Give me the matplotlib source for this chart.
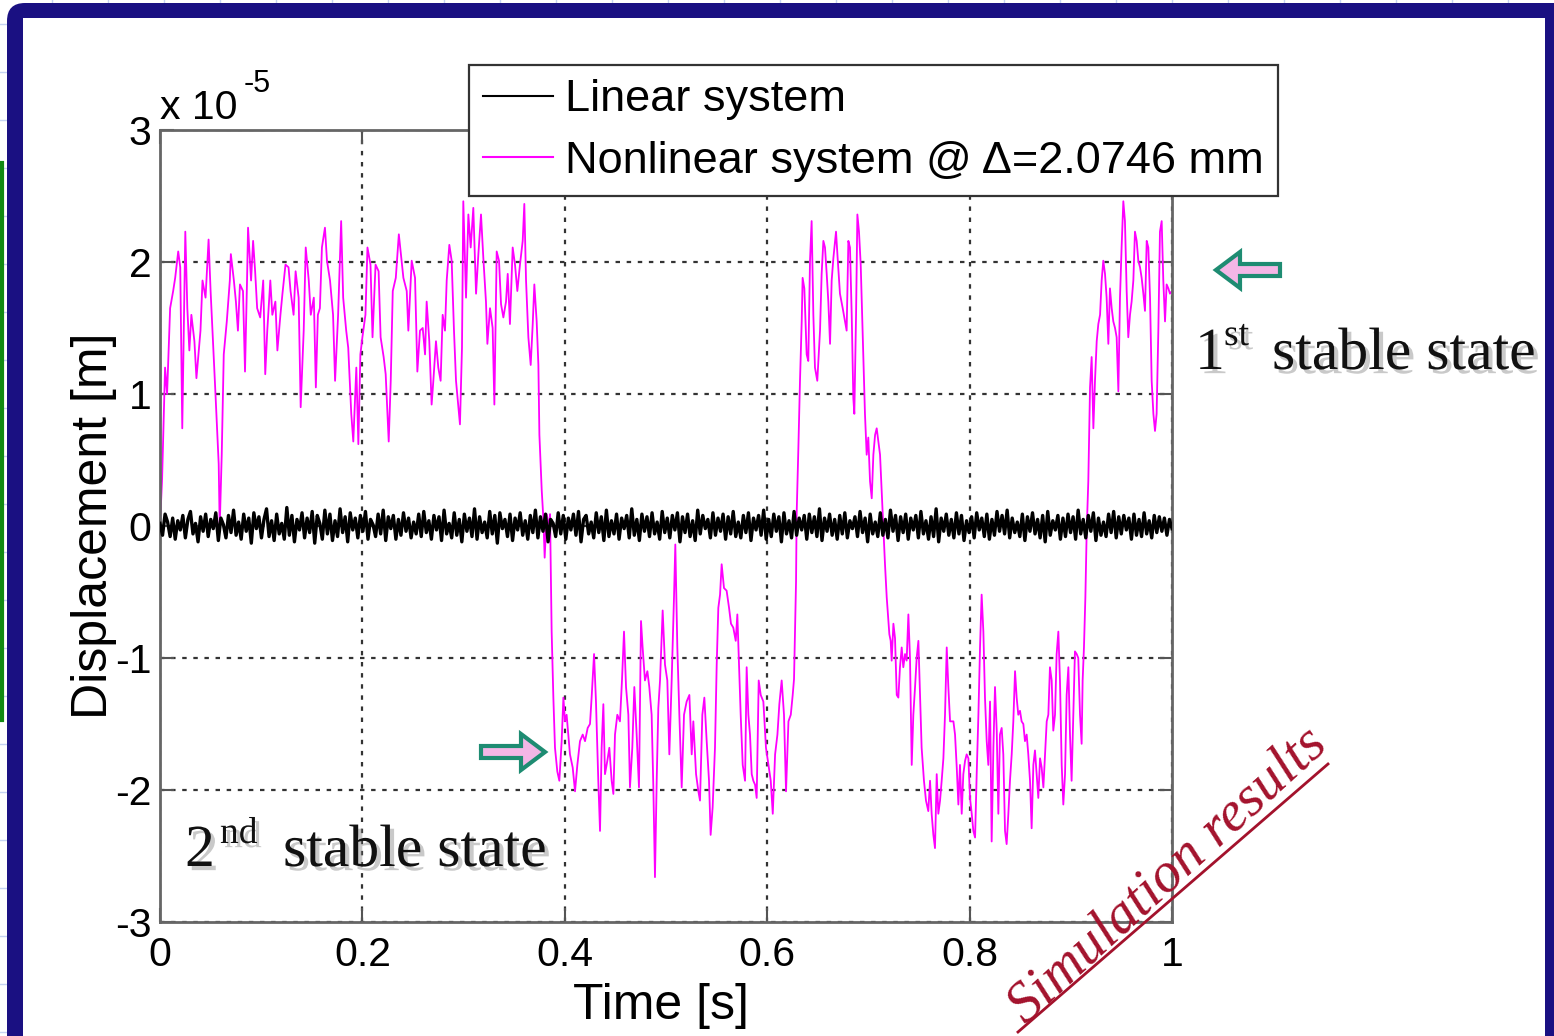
import numpy as np
import matplotlib.pyplot as plt
from matplotlib import patheffects
from matplotlib.patches import FancyBboxPatch, Rectangle, FancyArrow
from matplotlib.lines import Line2D
from matplotlib.transforms import Affine2D

W, H = 1554, 1036

plt.rcParams['font.family'] = ['Liberation Sans', 'DejaVu Sans']
plt.rcParams['mathtext.fontset'] = 'custom'
plt.rcParams['mathtext.rm'] = 'Liberation Sans'

# ---- data (displacement in units of 1e-5 m) ----
# nonlinear system, (time [s], displacement)
nonlinear_pts = [
    (0.000, 0.01), (0.002, 0.34), (0.005, 1.20), (0.007, 1.00), (0.010, 1.65),
    (0.013, 1.78), (0.015, 1.88), (0.018, 2.08), (0.020, 1.96), (0.022, 0.74),
    (0.025, 2.23), (0.027, 1.65), (0.029, 1.33), (0.031, 1.60), (0.034, 1.40),
    (0.036, 1.12), (0.040, 1.48), (0.042, 1.86), (0.045, 1.73), (0.048, 2.17),
    (0.050, 1.78), (0.053, 1.30), (0.055, 0.97), (0.058, 0.47), (0.059, -0.01),
    (0.061, 0.54), (0.063, 1.30), (0.066, 1.55), (0.069, 1.86), (0.070, 2.06),
    (0.073, 1.86), (0.075, 1.70), (0.077, 1.48), (0.079, 1.83), (0.082, 1.78),
    (0.084, 1.17), (0.086, 1.86), (0.087, 2.26), (0.090, 1.86), (0.092, 2.16),
    (0.094, 1.93), (0.096, 1.65), (0.099, 1.58), (0.102, 1.86), (0.104, 1.15),
    (0.106, 1.48), (0.109, 1.86), (0.111, 1.60), (0.114, 1.70), (0.116, 1.33),
    (0.119, 1.60), (0.121, 1.76), (0.124, 1.98), (0.127, 1.96), (0.129, 1.78),
    (0.132, 1.60), (0.134, 1.93), (0.137, 1.73), (0.139, 0.90), (0.142, 1.48),
    (0.144, 2.11), (0.147, 1.86), (0.149, 1.60), (0.152, 1.73), (0.154, 1.05),
    (0.156, 1.60), (0.158, 1.65), (0.160, 2.11), (0.163, 2.26), (0.165, 2.01),
    (0.168, 1.86), (0.171, 1.60), (0.173, 1.10), (0.176, 1.60), (0.179, 2.31),
    (0.181, 1.73), (0.184, 1.48), (0.186, 1.35), (0.189, 0.85), (0.191, 0.64),
    (0.194, 1.20), (0.196, 0.62), (0.198, 1.30), (0.200, 1.43), (0.203, 1.60),
    (0.205, 2.11), (0.208, 1.98), (0.210, 1.43), (0.213, 1.98), (0.216, 1.93),
    (0.218, 1.43), (0.221, 1.28), (0.223, 1.15), (0.226, 0.64), (0.228, 1.10),
    (0.230, 1.78), (0.233, 1.88), (0.236, 2.21), (0.2405, 1.88), (0.2438, 1.78),
    (0.2454, 1.48), (0.2487, 2.01), (0.2520, 1.88), (0.2543, 1.17), (0.2569, 1.48),
    (0.2596, 1.50), (0.2619, 1.30), (0.2635, 1.70), (0.2661, 1.40), (0.2684, 0.92),
    (0.2701, 1.10), (0.2727, 1.40), (0.2750, 1.20), (0.2773, 1.10), (0.2793, 1.60),
    (0.2816, 1.48), (0.2833, 1.86), (0.2859, 2.13), (0.2882, 2.01), (0.2905, 1.48),
    (0.2925, 1.10), (0.2948, 0.90), (0.2964, 0.77), (0.2984, 1.35), (0.2997, 2.46),
    (0.3024, 1.73), (0.3047, 2.36), (0.3070, 2.11), (0.3096, 2.41), (0.3123, 1.76),
    (0.3146, 2.06), (0.3172, 2.36), (0.3195, 2.03), (0.3221, 1.70), (0.3235, 1.38),
    (0.3261, 1.65), (0.3287, 1.50), (0.3304, 0.92), (0.3327, 2.08), (0.3350, 2.01),
    (0.3370, 1.68), (0.3393, 1.58), (0.3419, 1.70), (0.3436, 1.91), (0.3458, 1.53),
    (0.3485, 2.11), (0.3508, 1.98), (0.3531, 1.78), (0.3557, 1.98), (0.3584, 2.16),
    (0.3600, 2.44), (0.3617, 1.86), (0.3640, 1.43), (0.3663, 1.22), (0.3683, 1.53),
    (0.3699, 1.83), (0.3722, 1.55), (0.3739, 1.22), (0.3749, 0.69), (0.3772, 0.27),
    (0.3788, 0.06), (0.3801, -0.24), (0.3821, 0.09), (0.3844, -0.01), (0.3854, 0.09),
    (0.3870, -0.80), (0.3887, -1.30), (0.3903, -1.68), (0.3926, -1.86), (0.3946, -1.93),
    (0.3969, -1.63), (0.3986, -1.30), (0.4002, -1.48), (0.4018, -1.43), (0.4035, -1.58),
    (0.4051, -1.73), (0.4078, -1.83), (0.4101, -2.01), (0.4124, -1.81), (0.4150, -1.63),
    (0.4177, -1.58), (0.4200, -1.63), (0.4226, -1.53), (0.4249, -1.50), (0.4265, -1.30),
    (0.4289, -0.97), (0.4308, -1.33), (0.4331, -1.93), (0.4348, -2.31), (0.4364, -1.68),
    (0.4381, -1.35), (0.4397, -1.88), (0.4420, -1.78), (0.4440, -1.68), (0.4463, -1.93),
    (0.4480, -2.03), (0.4496, -1.58), (0.4519, -1.43), (0.4545, -1.48), (0.4565, -1.17),
    (0.4585, -0.80), (0.4605, -1.22), (0.4628, -1.43), (0.4644, -1.98), (0.4667, -1.68),
    (0.4687, -1.22), (0.4710, -1.58), (0.4733, -1.98), (0.4753, -0.72), (0.4769, -0.92),
    (0.4792, -1.17), (0.4816, -1.10), (0.4835, -1.22), (0.4858, -1.43), (0.4875, -1.98),
    (0.4891, -2.66), (0.4908, -1.93), (0.4924, -1.38), (0.4941, -1.17), (0.4967, -0.64),
    (0.4990, -1.05), (0.5013, -1.17), (0.5033, -1.73), (0.5056, -1.17), (0.5079, -0.54),
    (0.5092, -0.14), (0.5112, -0.92), (0.5132, -1.43), (0.5155, -1.98), (0.5178, -1.43),
    (0.5204, -1.33), (0.5231, -1.28), (0.5254, -1.73), (0.5270, -1.48), (0.5297, -1.88),
    (0.5320, -2.01), (0.5336, -2.08), (0.5359, -1.43), (0.5379, -1.30), (0.5402, -1.63),
    (0.5425, -1.93), (0.5441, -2.34), (0.5461, -2.13), (0.5484, -1.68), (0.5501, -1.05),
    (0.5517, -0.62), (0.5534, -0.52), (0.5550, -0.29), (0.5573, -0.47), (0.5599, -0.49),
    (0.5623, -0.62), (0.5642, -0.74), (0.5665, -0.77), (0.5689, -0.87), (0.5705, -0.67),
    (0.5722, -1.07), (0.5738, -1.43), (0.5758, -1.81), (0.5781, -1.93), (0.5797, -1.07),
    (0.5814, -1.43), (0.5830, -1.58), (0.5847, -1.88), (0.5863, -1.93), (0.5880, -1.96),
    (0.5896, -2.06), (0.5916, -1.17), (0.5936, -1.28), (0.5962, -1.33), (0.5988, -1.68),
    (0.6012, -1.81), (0.6035, -1.93), (0.6055, -2.18), (0.6078, -1.73), (0.6101, -1.58),
    (0.6120, -1.35), (0.6143, -1.17), (0.6166, -1.43), (0.6186, -2.01), (0.6210, -1.48),
    (0.6233, -1.43), (0.6252, -1.28), (0.6265, -1.16), (0.6285, -0.42), (0.6291, 0.09),
    (0.6308, 0.59), (0.6324, 1.10), (0.6341, 1.55), (0.6350, 1.88), (0.6367, 1.80),
    (0.6390, 1.30), (0.6406, 1.25), (0.6423, 2.01), (0.6439, 2.31), (0.6456, 1.60),
    (0.6472, 1.20), (0.6495, 1.10), (0.6522, 1.48), (0.6538, 1.91), (0.6555, 2.16),
    (0.6571, 2.11), (0.6588, 1.91), (0.6604, 1.70), (0.6621, 1.38), (0.6637, 1.86),
    (0.6654, 2.03), (0.6680, 2.23), (0.6696, 2.03), (0.6719, 1.76), (0.6746, 1.65),
    (0.6769, 1.55), (0.6785, 1.48), (0.6802, 2.16), (0.6818, 2.11), (0.6835, 1.60),
    (0.6851, 0.97), (0.6861, 0.85), (0.6878, 1.60), (0.6891, 2.36), (0.6907, 2.23),
    (0.6924, 1.98), (0.6943, 1.48), (0.6966, 0.85), (0.6983, 0.54), (0.6999, 0.67),
    (0.7016, 0.34), (0.7033, 0.21), (0.7049, 0.54), (0.7066, 0.69), (0.7082, 0.74),
    (0.7099, 0.64), (0.7115, 0.54), (0.7141, 0.09), (0.7164, -0.29), (0.7181, -0.54),
    (0.7207, -0.82), (0.7220, -0.87), (0.7230, -1.02), (0.7247, -0.74), (0.7263, -0.85),
    (0.7280, -1.28), (0.7296, -1.30), (0.7312, -1.07), (0.7329, -0.92), (0.7345, -1.07),
    (0.7362, -0.97), (0.7378, -1.02), (0.7395, -0.67), (0.7411, -1.00), (0.7428, -1.81),
    (0.7444, -1.43), (0.7461, -1.22), (0.7477, -1.00), (0.7494, -0.87), (0.7510, -1.28),
    (0.7526, -1.68), (0.7549, -1.93), (0.7569, -2.08), (0.7592, -2.16), (0.7609, -1.93),
    (0.7625, -2.18), (0.7642, -2.34), (0.7658, -2.44), (0.7675, -1.88), (0.7691, -2.18),
    (0.7708, -2.08), (0.7724, -1.93), (0.7741, -1.76), (0.7757, -1.43), (0.7774, -0.92),
    (0.7790, -1.22), (0.7807, -1.48), (0.7823, -1.48), (0.7840, -1.48), (0.7856, -1.58),
    (0.7873, -1.83), (0.7889, -2.11), (0.7905, -1.81), (0.7922, -2.18), (0.7938, -1.88),
    (0.7955, -1.78), (0.7971, -1.73), (0.7988, -1.76), (0.8004, -2.06), (0.8021, -2.18),
    (0.8037, -2.31), (0.8054, -2.36), (0.8070, -1.88), (0.8087, -1.43), (0.8103, -0.92),
    (0.8119, -0.52), (0.8136, -0.80), (0.8152, -1.30), (0.8169, -1.63), (0.8185, -1.81),
    (0.8202, -1.33), (0.8218, -2.39), (0.8235, -1.68), (0.8251, -1.22), (0.8268, -1.55),
    (0.8284, -2.18), (0.8300, -1.58), (0.8317, -1.53), (0.8333, -1.73), (0.8350, -2.31),
    (0.8366, -2.41), (0.8383, -2.18), (0.8399, -1.93), (0.8416, -1.73), (0.8432, -1.48),
    (0.8449, -1.10), (0.8465, -1.30), (0.8481, -1.43), (0.8498, -1.40), (0.8514, -1.48),
    (0.8531, -1.50), (0.8547, -1.63), (0.8564, -1.58), (0.8580, -1.73), (0.8597, -1.93),
    (0.8613, -2.29), (0.8630, -1.81), (0.8646, -1.70), (0.8663, -1.88), (0.8679, -2.06),
    (0.8696, -1.76), (0.8712, -1.83), (0.8729, -1.98), (0.8745, -1.73), (0.8762, -1.48),
    (0.8778, -1.43), (0.8794, -1.07), (0.8811, -1.17), (0.8827, -1.55), (0.8844, -1.43),
    (0.8860, -0.97), (0.8877, -0.80), (0.8893, -1.17), (0.8910, -1.81), (0.8926, -2.11),
    (0.8943, -1.88), (0.8959, -1.28), (0.8976, -1.07), (0.8992, -1.58), (0.9008, -1.93),
    (0.9025, -1.43), (0.9041, -0.95), (0.9058, -0.97), (0.9074, -1.00), (0.9091, -1.43),
    (0.9107, -1.65), (0.9117, -1.17), (0.9130, -0.92), (0.9144, -0.54), (0.9157, -0.04),
    (0.9173, 0.34), (0.9190, 1.05), (0.9206, 1.28), (0.9223, 0.74), (0.9239, 1.10),
    (0.9256, 1.40), (0.9272, 1.53), (0.9289, 1.60), (0.9305, 1.86), (0.9321, 2.01),
    (0.9338, 1.91), (0.9354, 1.73), (0.9371, 1.38), (0.9387, 1.80), (0.9404, 1.65),
    (0.9420, 1.55), (0.9437, 1.50), (0.9453, 1.43), (0.9470, 1.02), (0.9486, 1.73),
    (0.9502, 2.11), (0.9519, 2.46), (0.9535, 2.31), (0.9552, 1.78), (0.9568, 1.43),
    (0.9585, 1.60), (0.9601, 1.70), (0.9618, 1.86), (0.9634, 2.23), (0.9651, 2.16),
    (0.9667, 2.01), (0.9684, 1.96), (0.9700, 1.88), (0.9717, 1.76), (0.9733, 1.63),
    (0.9750, 2.16), (0.9766, 2.11), (0.9783, 1.73), (0.9799, 1.10), (0.9816, 0.85),
    (0.9832, 0.72), (0.9848, 0.85), (0.9865, 1.48), (0.9881, 2.23), (0.9898, 2.31),
    (0.9914, 1.86), (0.9931, 1.55), (0.9947, 1.83), (0.9964, 1.80), (0.9980, 1.76),
    (1.0000, 1.78),
]

# linear system: small vibration around zero, evenly sampled over 0..1 s
linear_disp = [
    0.02, -0.07, 0.09, 0.03, -0.08, 0.06, -0.10, 0.04, -0.03, 0.08, -0.09, 0.05, 0.11, -0.06, 0.02, -0.12, 0.07, -0.04, 0.09, -0.08,
    0.05, -0.02, 0.10, -0.11, 0.06, 0.01, -0.09, 0.08, -0.05, 0.12, -0.07, 0.03, -0.10, 0.09, -0.04, 0.06, -0.13, 0.10, -0.02, 0.07,
    -0.09, 0.05, 0.13, -0.08, 0.04, -0.11, 0.09, -0.06, 0.02, -0.10, 0.14, -0.07, 0.08, -0.12, 0.05, -0.03, 0.10, -0.09, 0.06, -0.05,
    0.11, -0.13, 0.08, 0.02, -0.10, 0.12, -0.06, 0.09, -0.11, 0.04, -0.08, 0.13, -0.05, 0.07, -0.12, 0.10, -0.03, 0.06, -0.09, 0.08,
    -0.04, 0.11, -0.10, 0.05, 0.01, -0.08, 0.09, -0.06, 0.12, -0.11, 0.07, -0.02, 0.08, -0.10, 0.05, -0.07, 0.10, -0.04, 0.06, -0.09,
    0.03, -0.06, 0.09, -0.08, 0.11, -0.05, 0.04, -0.10, 0.08, -0.03, 0.07, -0.11, 0.12, -0.06, 0.02, -0.09, 0.10, -0.07, 0.05, -0.12,
    0.09, -0.04, 0.06, -0.08, 0.13, -0.10, 0.07, -0.05, 0.03, -0.09, 0.11, -0.06, 0.08, -0.13, 0.10, -0.02, 0.05, -0.08, 0.09, -0.11,
    0.06, -0.03, 0.10, -0.07, 0.04, -0.10, 0.08, -0.05, 0.12, -0.09, 0.07, -0.04, 0.09, -0.12, 0.05, 0.02, -0.08, 0.10, -0.06, 0.08,
    -0.10, 0.06, -0.03, 0.09, -0.07, 0.11, -0.12, 0.05, 0.08, -0.06, 0.03, -0.09, 0.10, -0.05, 0.07, -0.11, 0.12, -0.08, 0.04, -0.06,
    0.09, -0.10, 0.06, -0.02, 0.08, -0.09, 0.13, -0.07, 0.05, -0.11, 0.09, -0.04, 0.07, -0.08, 0.10, -0.06, 0.03, -0.10, 0.11, -0.05,
    0.06, -0.09, 0.08, -0.03, 0.10, -0.12, 0.07, -0.05, 0.09, -0.08, 0.04, -0.11, 0.12, -0.06, 0.08, -0.02, 0.05, -0.09, 0.10, -0.07,
    0.06, -0.04, 0.09, -0.10, 0.07, -0.06, 0.11, -0.08, 0.03, -0.09, 0.08, -0.05, 0.10, -0.11, 0.06, -0.03, 0.08, -0.07, 0.12, -0.10,
    0.05, -0.08, 0.09, -0.04, 0.07, -0.12, 0.10, -0.06, 0.04, -0.09, 0.11, -0.07, 0.06, -0.03, 0.08, -0.10, 0.09, -0.05, 0.07, -0.08,
    0.13, -0.11, 0.06, -0.04, 0.09, -0.07, 0.05, -0.10, 0.08, -0.06, 0.10, -0.09, 0.04, -0.02, 0.07, -0.08, 0.11, -0.05, 0.06, -0.12,
    0.09, -0.06, 0.03, -0.08, 0.10, -0.07, 0.05, -0.09, 0.12, -0.04, 0.08, -0.11, 0.07, -0.05, 0.09, -0.10, 0.06, -0.03, 0.08, -0.09,
    0.11, -0.06, 0.04, -0.10, 0.07, -0.08, 0.13, -0.12, 0.06, -0.04, 0.09, -0.07, 0.05, -0.09, 0.10, -0.06, 0.08, -0.11, 0.04, -0.05,
    0.07, -0.09, 0.10, -0.03, 0.06, -0.08, 0.09, -0.10, 0.05, -0.07, 0.11, -0.04, 0.08, -0.06, 0.12, -0.09, 0.06, -0.05, 0.03, -0.08,
    0.09, -0.11, 0.07, -0.04, 0.10, -0.06, 0.05, -0.09, 0.08, -0.12, 0.11, -0.07, 0.04, -0.03, 0.08, -0.10, 0.06, -0.08, 0.09, -0.05,
    0.07, -0.10, 0.12, -0.06, 0.05, -0.09, 0.08, -0.04, 0.10, -0.11, 0.06, -0.07, 0.03, -0.08, 0.09, -0.05, 0.11, -0.09, 0.07, -0.06,
    0.08, -0.03, 0.06, -0.10, 0.09, -0.07, 0.05, -0.08, 0.10, -0.06, 0.04, -0.09, 0.08, -0.05, 0.07, -0.04, 0.06, -0.07, 0.05, -0.02,
]

x_ticks = [0, 0.2, 0.4, 0.6, 0.8, 1]
x_ticklabels = ['0', '0.2', '0.4', '0.6', '0.8', '1']
y_ticks = [-3, -2, -1, 0, 1, 2, 3]
y_ticklabels = ['-3', '-2', '-1', '0', '1', '2', '3']

t_nl = [p[0] for p in nonlinear_pts]
d_nl = [p[1] for p in nonlinear_pts]
t_lin = np.linspace(0, 1, len(linear_disp))

fig = plt.figure(figsize=(W / 100, H / 100), dpi=100)
fig.patch.set_facecolor('white')

# pixel coordinates measured from the top-left corner of the picture
px = Affine2D().scale(1, -1).translate(0, H).scale(1 / 100) + fig.dpi_scale_trans

# faint slide background grid outside the frame
bg = fig.add_axes([0, 0, 1, 1], zorder=-5)
bg.set_xlim(0, W)
bg.set_ylim(H, 0)
bg.axis('off')
for yy in range(24, H, 48):
    bg.axhline(yy, color='#c5d3f2', lw=1)
for xx in range(52, W, 56):
    bg.axvline(xx, color='#c5d3f2', lw=1)
bg.plot([1.5, 1.5], [163, 720], color='#138a13', lw=3)

# navy frame of the slide
fig.add_artist(FancyBboxPatch((7, 3), 1700, 1200, boxstyle='round,pad=0,rounding_size=18',
                              transform=px, fc='#1a1082', ec='none', zorder=-3))
fig.add_artist(Rectangle((23, 18), 1522, 1200, transform=px, fc='white', ec='none', zorder=-2))

ax = fig.add_axes([160 / W, 1 - 922 / H, 1012 / W, 792 / H], zorder=2)
ax.set_facecolor('white')

ax.plot(t_lin, linear_disp, color='black', lw=2.4, label='Linear system', zorder=3)
ax.plot(t_nl, d_nl, color='#ff00ff', lw=1.3, label='Nonlinear system @ \u0394=2.0746 mm', zorder=2)

ax.set_xlim(0, 1)
ax.set_ylim(-3, 3)
ax.set_xticks(x_ticks)
ax.set_xticklabels(x_ticklabels)
ax.set_yticks(y_ticks)
ax.set_yticklabels(y_ticklabels)
ax.tick_params(direction='in', length=10, width=1.5, color='#555555', labelsize=29.5,
               top=True, right=True)
ax.tick_params(axis='x', pad=10)
ax.tick_params(axis='y', pad=6)
for s in ax.spines.values():
    s.set_color('#666666')
    s.set_linewidth(2)
ax.grid(True, color='#333333', lw=1.6, linestyle=(0, (2.0, 3.0)))

ax.set_xlabel('Time [s]', fontsize=36)
ax.set_ylabel('Displacement [m]', fontsize=36)
ax.xaxis.set_label_coords(0.495, -0.077)
ax.yaxis.set_label_coords(-0.042, 0.5)

# scale factor shown above the y axis
fig.text(160 / W, 1 - 119 / H, 'x 10', fontsize=29.5, ha='left', va='baseline')
fig.text(244 / W, 1 - 92 / H, '-5', fontsize=22, ha='left', va='baseline')

leg = ax.legend(loc='upper left', bbox_to_anchor=(469 / W, 1 - 65 / H), bbox_transform=fig.transFigure,
                fontsize=32.5, frameon=True, fancybox=False, framealpha=1, borderaxespad=0,
                handlelength=1.55, handletextpad=0.25, labelspacing=0.45, borderpad=0.32)
leg.get_frame().set_edgecolor('#333333')
leg.get_frame().set_linewidth(1.6)
leg.set_zorder(6)
for ln in leg.get_lines():
    ln.set_linewidth(1.5)

# annotations
shadow = [patheffects.withSimplePatchShadow(offset=(3, -3), shadow_rgbFace='#888888', alpha=0.45)]
serif = ['Liberation Serif', 'DejaVu Serif']
for x0, y0, txt, fs in [(1195, 369, '1', 43), (1224, 345, 'st', 27), (1272, 369, 'stable state', 43),
                        (185, 866, '2', 43), (220, 843, 'nd', 27), (283, 866, 'stable state', 43)]:
    fig.text(x0 / W, 1 - y0 / H, txt, fontsize=fs, family=serif, ha='left', va='baseline',
             color='#111111', path_effects=shadow, zorder=7)

arrow_kw = dict(transform=px, length_includes_head=True, width=12, head_width=36, head_length=24,
                fc='#f4b6e6', ec='#1e8c72', lw=3, zorder=7)
fig.add_artist(FancyArrow(1280, 270, -64, 0, **arrow_kw))
fig.add_artist(FancyArrow(481, 752, 64, 0, **arrow_kw))

fig.text(1168 / W, 1 - 875 / H, 'Simulation results', fontsize=41, family=serif, style='italic',
         color='#a3122c', rotation=42.5, rotation_mode='anchor', ha='center', va='center', zorder=8)
fig.add_artist(Line2D([1018, 1328], [1032, 764], transform=px, color='#a3122c', lw=2, zorder=8))

fig.savefig('out.png', dpi=100)
